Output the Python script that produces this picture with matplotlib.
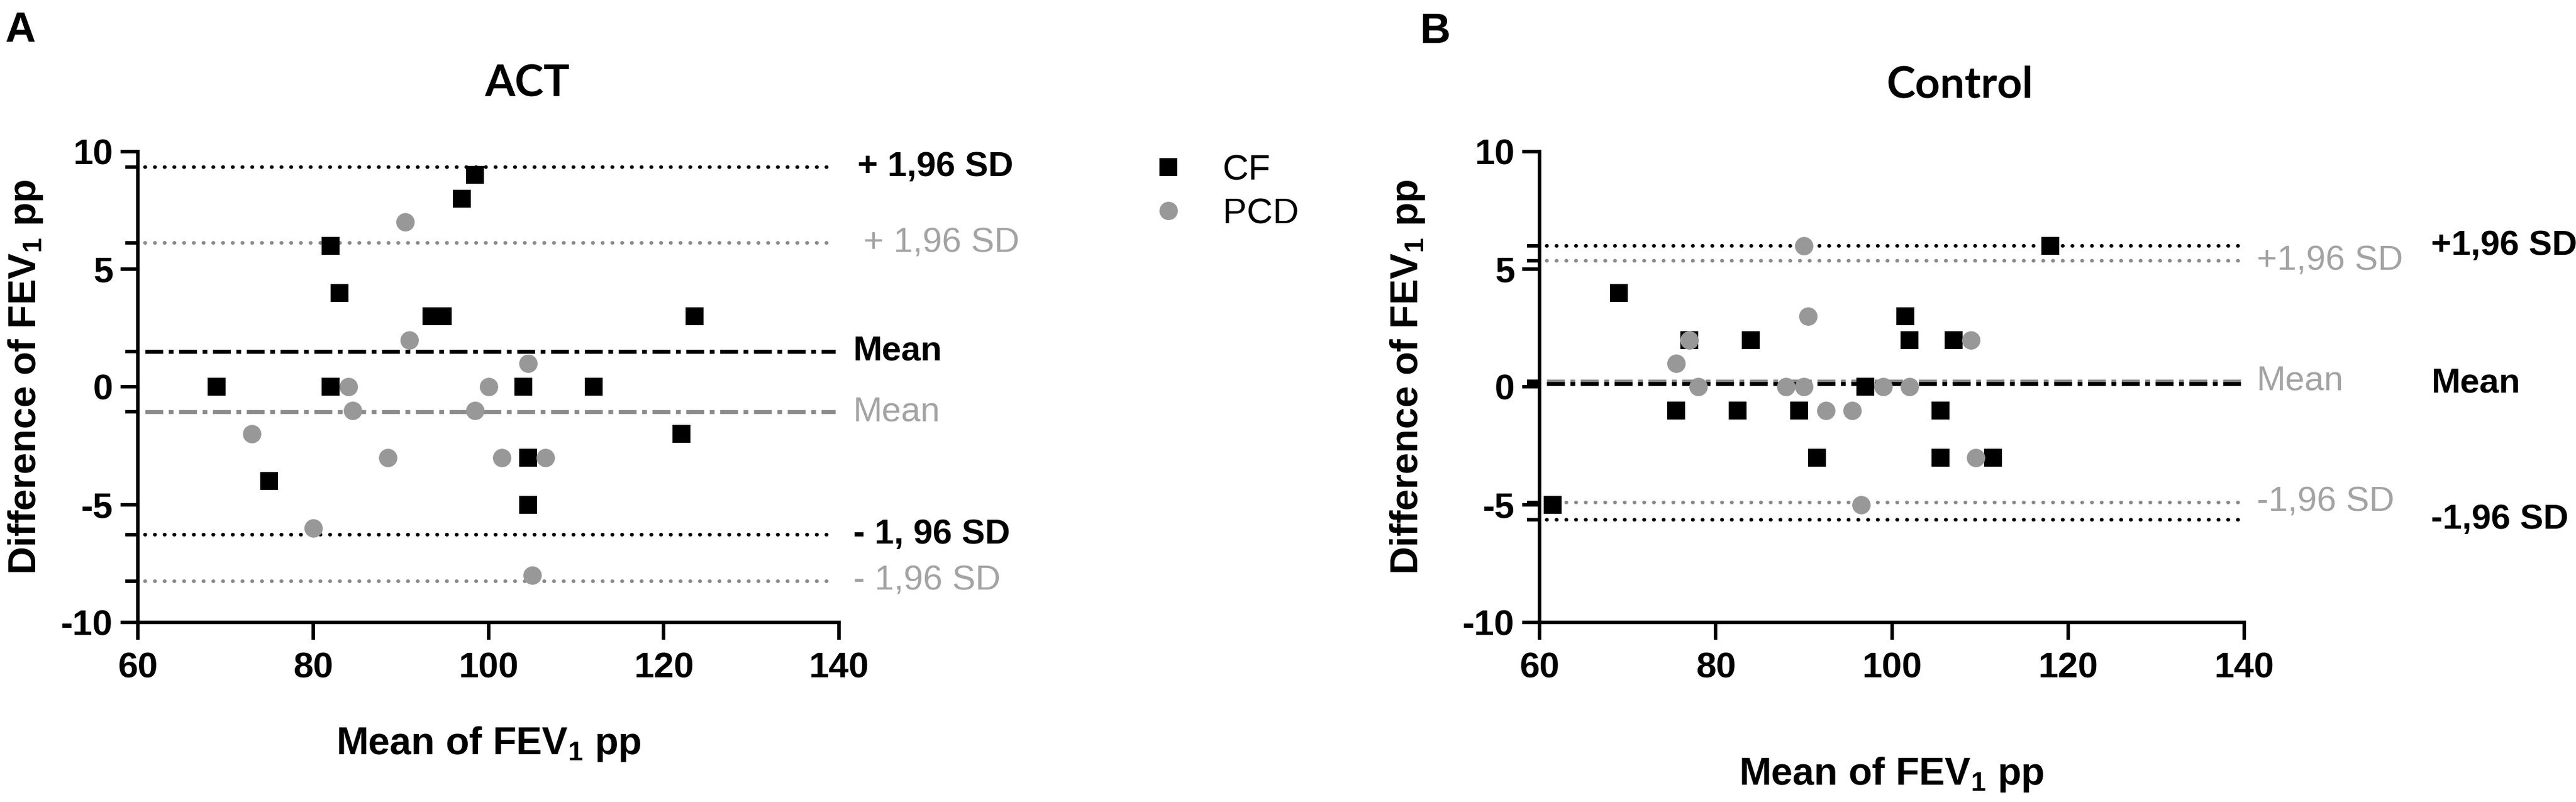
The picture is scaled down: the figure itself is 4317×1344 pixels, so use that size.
import matplotlib
matplotlib.use("Agg")
import matplotlib.pyplot as plt

plt.rcParams['font.family'] = ['Liberation Sans', 'DejaVu Sans']
plt.rcParams['mathtext.fontset'] = 'custom'
plt.rcParams['mathtext.rm'] = 'Liberation Sans'
plt.rcParams['mathtext.bf'] = 'Liberation Sans:bold'
plt.rcParams['axes.unicode_minus'] = False

# ---------------- data ----------------
# panel A : ACT
act_cf_x = [69, 75, 82, 82, 83, 93.5, 94.8, 97, 98.5, 104, 104.5, 104.5, 112, 122, 123.5]
act_cf_y = [0, -4, 6, 0, 4, 3, 3, 8, 9, 0, -3, -5, 0, -2, 3]
act_pcd_x = [73, 80, 84, 84.5, 88.5, 90.5, 91, 98.5, 100, 101.5, 104.5, 105, 106.5]
act_pcd_y = [-2, -6, 0, -1, -3, 7, 2, -1, 0, -3, 1, -8, -3]
act_cf_limits = [9.35, 1.52, -6.28]      # +1.96 SD, mean, -1.96 SD
act_pcd_limits = [6.12, -1.06, -8.25]
act_cf_labels = ['+ 1,96 SD', 'Mean', '- 1, 96 SD']
act_pcd_labels = ['+ 1,96 SD', 'Mean', '- 1,96 SD']

# panel B : Control
ctl_cf_x = [61.5, 69, 75.5, 77, 82.5, 84, 89.5, 91.5, 97, 101.5, 102, 105.5, 105.5, 107, 111.5, 118]
ctl_cf_y = [-5, 4, -1, 2, -1, 2, -1, -3, 0, 3, 2, -1, -3, 2, -3, 6]
ctl_pcd_x = [75.5, 77, 78, 88, 90, 90, 90.5, 92.5, 95.5, 96.5, 99, 102, 109, 109.5]
ctl_pcd_y = [1, 2, 0, 0, 0, 6, 3, -1, -1, -5, 0, 0, 2, -3]
ctl_cf_limits = [6.0, 0.15, -5.65]
ctl_pcd_limits = [5.35, 0.25, -4.9]
ctl_cf_labels = ['+1,96 SD', 'Mean', '-1,96 SD']
ctl_pcd_labels = ['+1,96 SD', 'Mean', '-1,96 SD']

x_ticks = [60, 80, 100, 120, 140]
y_ticks = [-10, -5, 0, 5, 10]

# ---------------- style ----------------
BLACK = '#000000'
GREY_MK = '#989898'
GREY_LN = '#8a8a8a'
GREY_TXT = '#a3a3a3'
DOT = (0, (0.1, 2.6))
DASHDOT = (0, (4.5, 1.4, 1.2, 1.4))
MS = 7.4

W, H = 4317, 1344
fig = plt.figure(figsize=(W / 300, H / 300), dpi=300)


def draw_panel(ax, cf_x, cf_y, pcd_x, pcd_y, cf_lim, pcd_lim):
    styles = [DOT, DASHDOT, DOT]
    for lims, col in [(pcd_lim, GREY_LN), (cf_lim, BLACK)]:
        for v, ls in zip(lims, styles):
            dotted = ls == DOT
            ax.hlines(v, 60.8, 139.6, colors=col, linestyles=ls,
                      lw=1.45 if dotted else 1.6, capstyle='round' if dotted else 'butt')

    cf, = ax.plot(cf_x, cf_y, 's', ms=MS, color=BLACK, mew=0, clip_on=False, label='CF', zorder=3)
    pcd, = ax.plot(pcd_x, pcd_y, 'o', ms=MS, color=GREY_MK, mew=0, clip_on=False, label='PCD', zorder=4)

    ax.set_xlim(60, 140)
    ax.set_ylim(-10, 10)
    ax.set_xticks(x_ticks)
    ax.set_yticks(y_ticks)
    ax.set_yticks(cf_lim + pcd_lim, minor=True)
    for s in ['top', 'right']:
        ax.spines[s].set_visible(False)
    for s in ['left', 'bottom']:
        ax.spines[s].set_linewidth(1.4)
    ax.tick_params(which='major', length=7, width=1.4, labelsize=14.5, pad=3)
    ax.tick_params(axis='x', which='major', pad=5)
    ax.tick_params(which='minor', length=5, width=1.4)
    for lab in ax.get_xticklabels() + ax.get_yticklabels():
        lab.set_fontweight('bold')
    return cf, pcd


bottom, height = 0.224, 0.587
axA = fig.add_axes([231 / W, bottom, 1175 / W, height])
axB = fig.add_axes([2580 / W, bottom, 1181 / W, height])

cf_h, pcd_h = draw_panel(axA, act_cf_x, act_cf_y, act_pcd_x, act_pcd_y, act_cf_limits, act_pcd_limits)
draw_panel(axB, ctl_cf_x, ctl_cf_y, ctl_pcd_x, ctl_pcd_y, ctl_cf_limits, ctl_pcd_limits)

# limit labels, panel A
for v, t, xx in zip(act_cf_limits, act_cf_labels, [142.1, 141.6, 141.6]):
    axA.text(xx, v, t, ha='left', va='center', fontsize=14, fontweight='bold', color=BLACK, clip_on=False)
for v, t, xx in zip(act_pcd_limits, act_pcd_labels, [142.8, 141.6, 141.6]):
    axA.text(xx, v, t, ha='left', va='center', fontsize=14, color=GREY_TXT, clip_on=False)

# limit labels, panel B
for v, t in zip(ctl_pcd_limits, ctl_pcd_labels):
    axB.text(141.4, v, t, ha='left', va='center', fontsize=14, color=GREY_TXT, clip_on=False)
for v, t in zip(ctl_cf_limits, ctl_cf_labels):
    axB.text(161.2, v, t, ha='left', va='center', fontsize=14, fontweight='bold', color=BLACK, clip_on=False)

# titles and panel letters
fig.text(884 / W, 1 - 162 / H, 'ACT', ha='center', va='baseline', fontsize=17.5,
         family='Lato', fontweight='bold')
fig.text(3284 / W, 1 - 163 / H, 'Control', ha='center', va='baseline', fontsize=17.5,
         family='Lato', fontweight='bold')
fig.text(8 / W, 1 - 70 / H, 'A', ha='left', va='baseline', fontsize=17, fontweight='bold')
fig.text(2379 / W, 1 - 72 / H, 'B', ha='left', va='baseline', fontsize=17, fontweight='bold')

# axis labels
xlab = r'Mean of FEV$_{\mathbf{1}}$ pp'
ylab = r'Difference of FEV$_{\mathbf{1}}$ pp'
fig.text(819 / W, 1 - 1264 / H, xlab, ha='center', va='baseline', fontsize=15.5, fontweight='bold')
fig.text(3170 / W, 1 - 1315 / H, xlab, ha='center', va='baseline', fontsize=15.5, fontweight='bold')
fig.text(60 / W, 0.53, ylab, rotation=90, rotation_mode='anchor', ha='center', va='baseline',
         fontsize=15.5, fontweight='bold')
fig.text(2376 / W, 0.53, ylab, rotation=90, rotation_mode='anchor', ha='center', va='baseline',
         fontsize=15.5, fontweight='bold')

# legend
fig.legend(handles=[cf_h, pcd_h], loc='upper left', bbox_to_anchor=(1928 / W, 1 - 258 / H),
           frameon=False, fontsize=14.5, handlelength=1.0, handletextpad=1.0,
           labelspacing=0.3, borderpad=0, borderaxespad=0)

fig.savefig('out.png', dpi=300)
